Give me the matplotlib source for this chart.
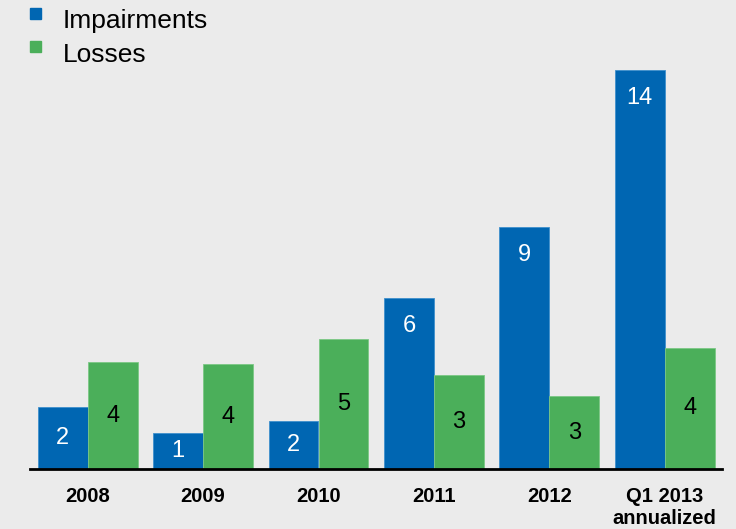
import matplotlib.pyplot as plt
from matplotlib.patches import Rectangle

plt.rcParams['font.family'] = ['Liberation Sans', 'DejaVu Sans']

categories = ['2008', '2009', '2010', '2011', '2012', 'Q1 2013\nannualized']
series_names = ['Impairments', 'Losses']
# bar heights, labels as printed on the chart
impairments = [2.18, 1.26, 1.68, 6.0, 8.49, 14.0]
losses = [3.75, 3.68, 4.56, 3.30, 2.56, 4.25]
impairment_labels = ['2', '1', '2', '6', '9', '14']
loss_labels = ['4', '4', '5', '3', '3', '4']

blue = '#0066B2'
green = '#4BAF5A'
bg = '#EBEBEB'

W, H = 736, 529
fig = plt.figure(figsize=(W / 100, H / 100), dpi=100, facecolor=bg)
ax = fig.add_axes([30 / W, 60 / H, 692.4 / W, 427.5 / H])
ax.set_facecolor(bg)

x = list(range(len(categories)))
w = 0.433
b1 = ax.bar([i - w / 2 for i in x], impairments, width=w, color=blue,
            edgecolor='#3F8FCC', linewidth=0.6)
b2 = ax.bar([i + w / 2 for i in x], losses, width=w, color=green,
            edgecolor='#7CC885', linewidth=0.6)


def put_labels(bars, vals, labels, color):
    for bar, v, lab in zip(bars, vals, labels):
        cx = bar.get_x() + bar.get_width() / 2
        if v > 5:
            ax.annotate(lab, (cx, v), xytext=(0, -20), textcoords='offset points',
                        ha='center', va='center', fontsize=17, color=color)
        else:
            ax.text(cx, v / 2, lab, ha='center', va='center',
                    fontsize=17, color=color)


put_labels(b1, impairments, impairment_labels, 'white')
put_labels(b2, losses, loss_labels, 'black')

ax.set_xlim(-0.5, 5.5)
ax.set_ylim(0, 15)
ax.set_xticks(x)
ax.set_xticklabels(categories, fontsize=14.5, fontweight='bold', linespacing=1.2)
ax.tick_params(axis='x', length=0, pad=13)
ax.set_yticks([])
for s in ['top', 'right', 'left']:
    ax.spines[s].set_visible(False)
ax.spines['bottom'].set_linewidth(2)
ax.spines['bottom'].set_color('black')

# legend drawn by hand: small square bullet raised to the top of the text
for k, (name, col) in enumerate(zip(series_names, [blue, green])):
    top = 8 + 33 * k
    fig.patches.append(Rectangle((30 / W, 1 - (top + 10.5) / H), 11 / W, 10.5 / H,
                                 transform=fig.transFigure, color=col))
    fig.text(63 / W, 1 - (28 + 33.5 * k) / H, name, fontsize=19,
             ha='left', va='baseline')

fig.savefig('out.png', dpi=100, facecolor=bg)
